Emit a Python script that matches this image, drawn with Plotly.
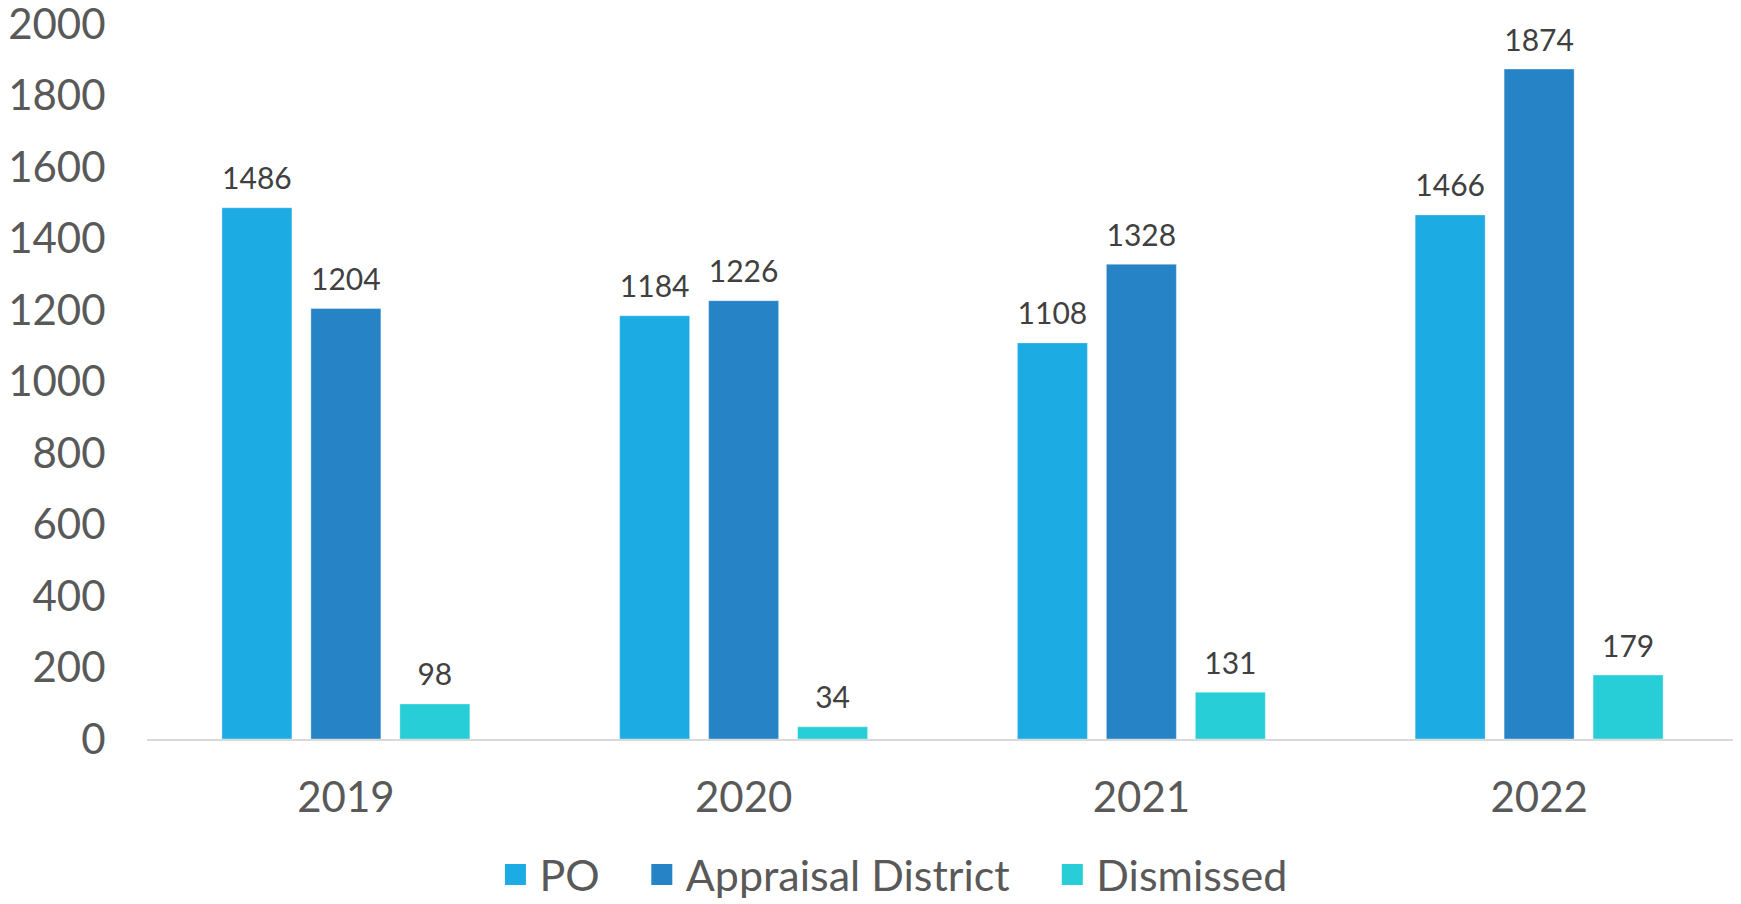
import plotly.graph_objects as go

years = ["2019", "2020", "2021", "2022"]
po = [1486, 1184, 1108, 1466]
appraisal = [1204, 1226, 1328, 1874]
dismissed = [98, 34, 131, 179]
series_names = ["PO", "Appraisal District", "Dismissed"]
colors = ["#1CACE3", "#2683C6", "#27CED7"]
y_ticks = [0, 200, 400, 600, 800, 1000, 1200, 1400, 1600, 1800, 2000]

FONT = "Lato"
legend_ids = ["legend", "legend2", "legend3"]
legend_x = [0.2165, 0.3085, 0.5665]

fig = go.Figure()
for i, (name, vals, col) in enumerate(zip(series_names, [po, appraisal, dismissed], colors)):
    fig.add_trace(go.Bar(
        x=years, y=vals, name=name, offsetgroup=str(i),
        marker=dict(color=col, line=dict(color="rgba(255,255,255,0.35)", width=1)),
        showlegend=False, hoverinfo="x+y+name",
    ))
for i, (name, vals, col) in enumerate(zip(series_names, [po, appraisal, dismissed], colors)):
    fig.add_trace(go.Scatter(
        x=years, y=vals, offsetgroup=str(i), mode="markers+text",
        marker=dict(size=16, color="rgba(0,0,0,0)"),
        text=[str(v) for v in vals], textposition="top center",
        textfont=dict(family=FONT, size=30, color="#404040"),
        showlegend=False, hoverinfo="skip", cliponaxis=False,
    ))
for name, col, lid in zip(series_names, colors, legend_ids):
    fig.add_trace(go.Scatter(
        x=[None], y=[None], name=name, mode="markers", legend=lid,
        marker=dict(symbol="square", size=24, color=col, line=dict(color=col, width=8)),
    ))

legend_common = dict(orientation="h", xanchor="left", y=-0.1895, yanchor="middle",
                     font=dict(family=FONT, size=43, color="#595959"),
                     itemwidth=38, bgcolor="rgba(0,0,0,0)", borderwidth=0)

fig.update_layout(
    width=1733, height=904,
    margin=dict(l=139, r=3, t=16, b=155),
    paper_bgcolor="white", plot_bgcolor="white",
    barmode="group", bargap=0.329, bargroupgap=0.213,
    scattermode="group",
    font=dict(family=FONT, color="#595959"),
    showlegend=True,
    legend=dict(x=legend_x[0], **legend_common),
    legend2=dict(x=legend_x[1], **legend_common),
    legend3=dict(x=legend_x[2], **legend_common),
)
fig.update_yaxes(range=[0, 2000], tickvals=y_ticks, showgrid=False, zeroline=False,
                 showline=False, ticks="outside", ticklen=32, tickcolor="rgba(0,0,0,0)",
                 automargin=False, ticklabeloverflow="allow",
                 tickfont=dict(family=FONT, size=42, color="#595959"))
fig.update_xaxes(showgrid=False, showline=True, linecolor="#D9D9D9", linewidth=2,
                 ticks="outside", ticklen=21, tickcolor="rgba(0,0,0,0)", automargin=False,
                 tickfont=dict(family=FONT, size=42, color="#595959"))

fig.write_html("out.html")
